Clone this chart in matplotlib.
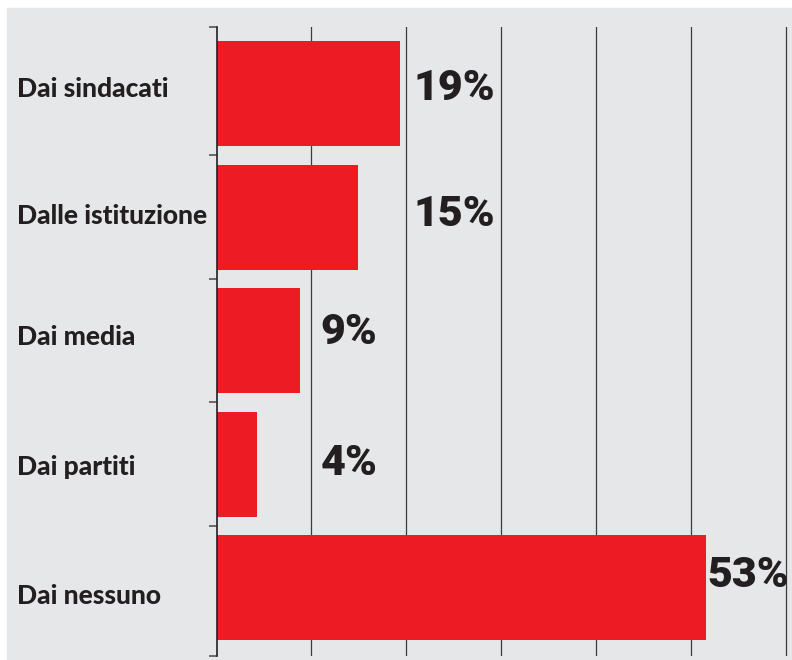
import matplotlib
matplotlib.use("Agg")
import matplotlib.pyplot as plt
from matplotlib.patches import Rectangle

# ---- data ----
categories = ["Dai sindacati", "Dalle istituzione", "Dai media", "Dai partiti", "Dai nessuno"]
values = [19.8, 15.2, 9.0, 4.3, 53.0]          # bar lengths as drawn (percent)
value_labels = ["19%", "15%", "9%", "4%", "53%"]

# ---- layout ----
W, H, DPI = 792, 660, 100
RED = "#ed1c24"
BG = "#e6e7e8"
INK = "#231f20"
grid_step = 10.3
label_x = [21.4, 21.4, 11.3, 11.3, 53.3]        # data x where value labels start
label_dy = [6.5, 9.5, 3.5, 10.5, -0.5]          # px baseline offset below bar centre
cat_dy = [3.5, 6.5, 4.5, 10.5, 16.5]            # px baseline offset below bar centre

fig = plt.figure(figsize=(W / DPI, H / DPI), dpi=DPI, facecolor="white")
fig.patches.append(Rectangle((7 / W, 0), 1 - 7 / W, (H - 8) / H,
                             transform=fig.transFigure, color=BG, zorder=-10))

ax_l, ax_r, ax_t, ax_b = 216.5, 792, 27, 656
ax = fig.add_axes([ax_l / W, (H - ax_b) / H, (ax_r - ax_l) / W, (ax_b - ax_t) / H])
ax.set_facecolor("none")

px_per_unit = 9.217
ax.set_xlim(0, (ax_r - ax_l) / px_per_unit)
row_px = 123.5
first_c = 93.5
y_top = (ax_t - first_c) / row_px
y_bot = (ax_b - first_c) / row_px
ax.set_ylim(y_bot, y_top)

ypos = list(range(len(categories)))
for k in range(1, 7):
    ax.axvline(k * grid_step, color="#3c3c3c", lw=0.9, zorder=0)

ax.barh(ypos, values, height=105 / row_px, color=RED, zorder=2, left=0.1)

for sp in ["top", "right", "bottom"]:
    ax.spines[sp].set_visible(False)
ax.spines["left"].set_color(INK)
ax.spines["left"].set_linewidth(1.2)
ax.set_xticks([])
ax.set_yticks([y_top] + [i + 0.5 for i in range(len(categories) - 1)] + [y_bot])
ax.set_yticklabels([])
ax.tick_params(axis="y", direction="out", length=5.5, width=1.2, color="#555555")

for i, (lab, lx, dy) in enumerate(zip(value_labels, label_x, label_dy)):
    ax.annotate(lab, xy=(lx, i), xytext=(0, -dy * 72 / DPI), textcoords="offset points",
                ha="left", va="baseline", fontsize=31, fontweight="black",
                family=["Roboto", "DejaVu Sans"], color=INK, annotation_clip=False)

for i, (cat, dy) in enumerate(zip(categories, cat_dy)):
    ax.annotate(cat, xy=(17, i), xycoords=("figure pixels", "data"),
                xytext=(0, -dy * 72 / DPI), textcoords="offset points",
                ha="left", va="baseline", fontsize=19, fontweight="black",
                family=["Lato", "DejaVu Sans"], color=INK, annotation_clip=False)

fig.savefig("out.png", dpi=DPI, facecolor="white")
